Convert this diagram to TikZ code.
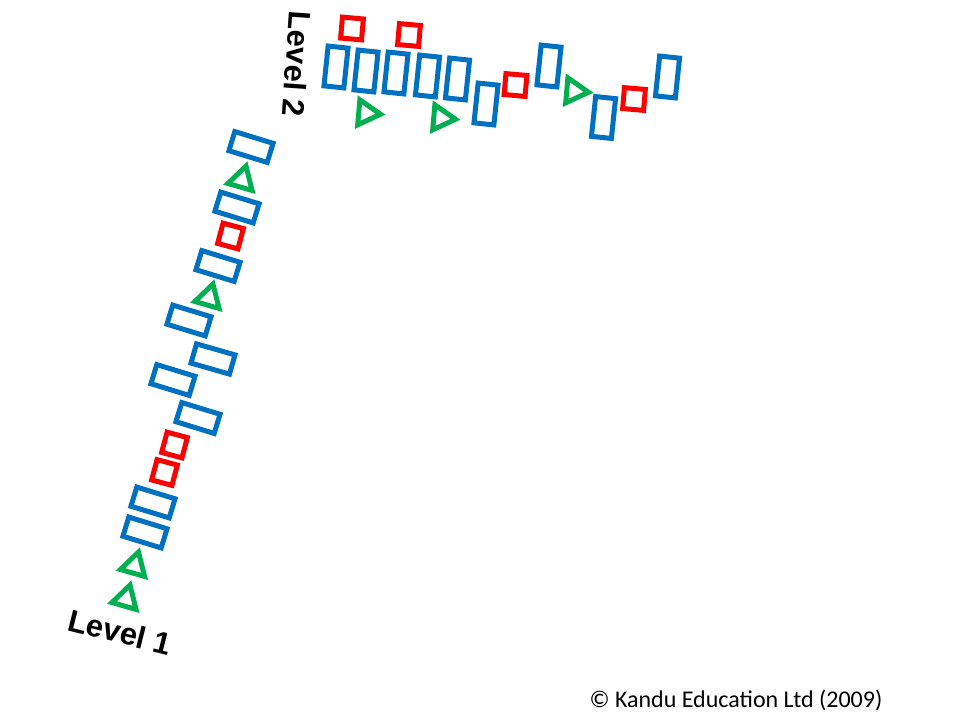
\documentclass[tikz,border=0pt]{standalone}
\usepackage{fontspec}
\setmainfont{Liberation Sans}
\newfontfamily\calfont{Carlito}
\usetikzlibrary{shapes.geometric}
\definecolor{kblue}{RGB}{0,112,192}
\definecolor{kred}{RGB}{255,0,0}
\definecolor{kgreen}{RGB}{0,176,80}
\tikzset{
  bluebox/.style={draw=kblue, line width=5pt, rectangle, inner sep=0pt, minimum width=40pt, minimum height=20pt},
  redbox/.style={draw=kred, line width=5pt, rectangle, inner sep=0pt, minimum size=21pt},
  greentri/.style={draw=kgreen, line width=5pt, regular polygon, regular polygon sides=3, inner sep=0pt, minimum size=29pt},
  lvl/.style={font=\fontsize{31}{33}\selectfont\bfseries, inner sep=0pt},
  copy/.style={font=\calfont\fontsize{24}{26}\selectfont, inner sep=0pt}
}
\begin{document}
\begin{tikzpicture}[x=1pt,y=-1pt]
\path[use as bounding box] (0,0) rectangle (960,720);
% Level 2 row
\node[lvl, rotate=-94] (l2) at (297,64) {Level 2};
\node[bluebox, rotate=84] (t1) at (336,67) {};
\node[bluebox, rotate=84] (t2) at (366,71) {};
\node[bluebox, rotate=84] (t3) at (396,73) {};
\node[bluebox, rotate=84] (t4) at (427.5,76) {};
\node[bluebox, rotate=84] (t5) at (457.5,79) {};
\node[bluebox, rotate=84] (t6) at (486,104) {};
\node[bluebox, rotate=84] (t7) at (549,66) {};
\node[bluebox, rotate=84] (t8) at (603.5,117.5) {};
\node[bluebox, rotate=84] (t9) at (667.5,77) {};
\node[redbox, rotate=-5] (r1) at (352,28.5) {};
\node[redbox, rotate=-5] (r2) at (409,35) {};
\node[redbox, rotate=-5] (r3) at (515.5,85) {};
\node[redbox, rotate=-5] (r4) at (634,99) {};
\node[greentri, rotate=-95] (g1) at (366,113) {};
\node[greentri, rotate=-95] (g2) at (441,118) {};
\node[greentri, rotate=-95] (g3) at (574,91) {};
% Level 1 column
\node[lvl, rotate=-14] (l1) at (120,632) {Level 1};
\node[bluebox, rotate=-17] (a) at (251,147) {};
\node[bluebox, rotate=-17] (b) at (237,207.5) {};
\node[bluebox, rotate=-17] (c) at (218,266) {};
\node[bluebox, rotate=-17] (d) at (189,320.5) {};
\node[bluebox, rotate=-16] (e) at (213,359) {};
\node[bluebox, rotate=-17] (f) at (173,380) {};
\node[bluebox, rotate=-17] (g) at (198,418) {};
\node[bluebox, rotate=-17] (h) at (153,502.5) {};
\node[bluebox, rotate=-17] (i) at (145,532.5) {};
\node[redbox, rotate=-15] (rb) at (230.5,236) {};
\node[redbox, rotate=-15] (rg) at (174.5,445) {};
\node[redbox, rotate=-15] (rh) at (164.5,472.5) {};
\node[greentri, rotate=-16] (ga) at (242,180) {};
\node[greentri, rotate=-16] (gc) at (209,298) {};
\node[greentri, rotate=-16] (gi) at (134.5,566) {};
\node[greentri, rotate=-16] (gj) at (126,599) {};
% copyright
\node[copy] (cp) at (736,700) {© Kandu Education Ltd (2009)};
\end{tikzpicture}
\end{document}
